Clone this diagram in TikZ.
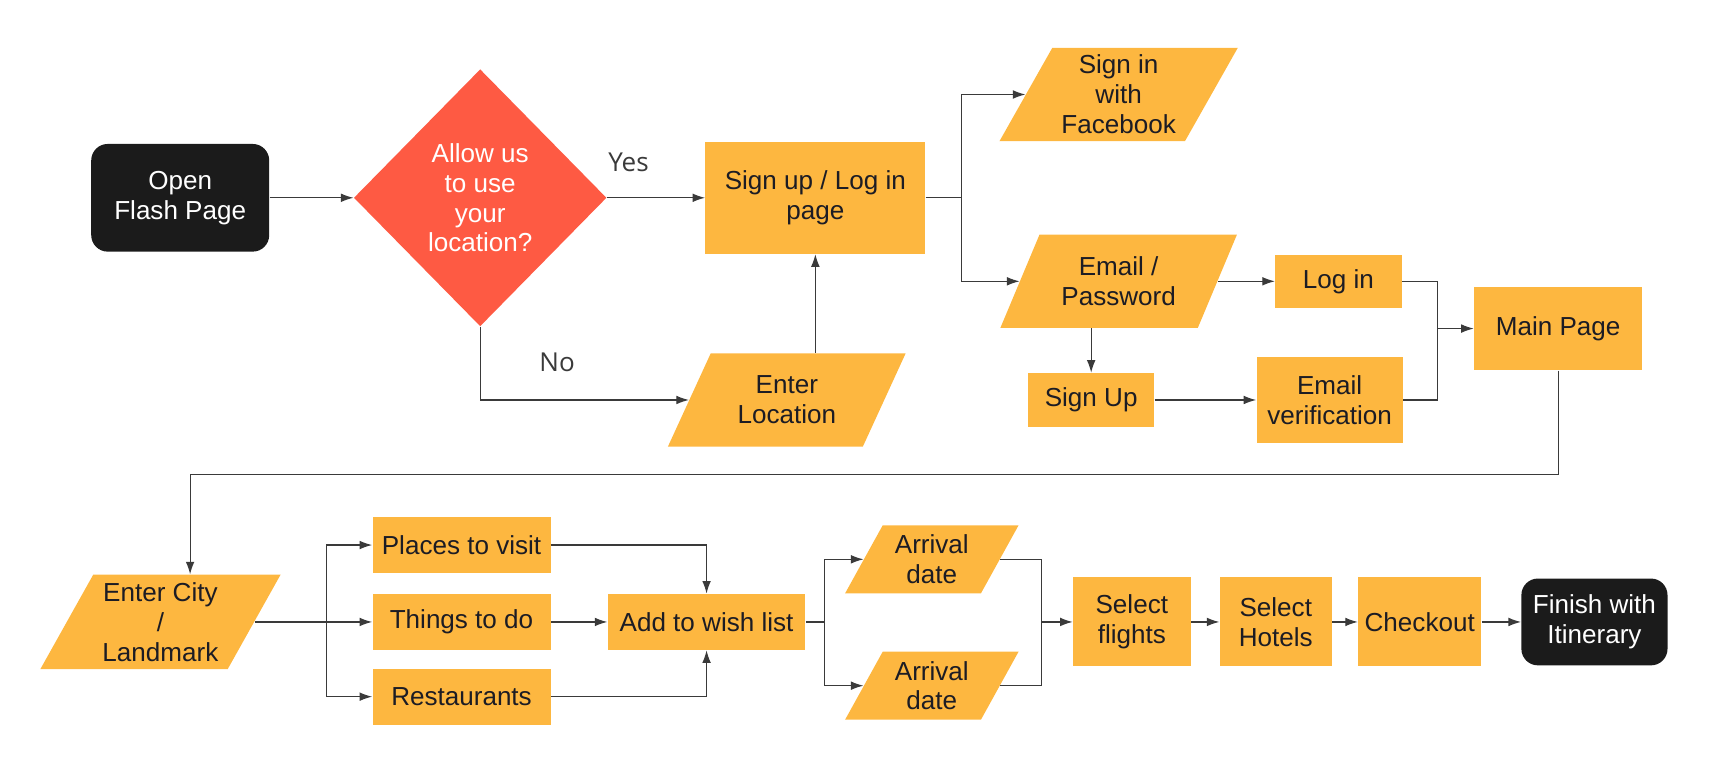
\documentclass[tikz,border=0pt]{standalone}
\usepackage{fontspec}
\setmainfont{Liberation Sans}
\newfontfamily\labelfont{Open Sans}
\usetikzlibrary{shapes.geometric,arrows.meta}
\definecolor{boxorange}{HTML}{FDB740}
\definecolor{asktomato}{HTML}{FE5A43}
\definecolor{termblack}{HTML}{1B1B1B}
\definecolor{inkdark}{HTML}{1C1C24}
\definecolor{wiregray}{HTML}{3A3A3A}
\tikzset{
  stepbox/.style={fill=boxorange,text=inkdark,shape=rectangle,align=center,inner sep=0pt},
  inputbox/.style={fill=boxorange,text=inkdark,shape=trapezium,trapezium left angle=60,trapezium right angle=120,trapezium stretches=true,align=center,inner sep=0pt},
  endbox/.style={fill=termblack,text=white,shape=rectangle,rounded corners=0.3cm,align=center,inner sep=0pt},
  askbox/.style={fill=asktomato,text=white,shape=diamond,align=center,inner sep=0pt},
  wire/.style={draw=wiregray,line width=0.6pt},
  flow/.style={wire,-{Latex[length=6.5pt,width=4.5pt]}},
  answer/.style={font=\labelfont\fontsize{13.5}{15.5}\selectfont,text=wiregray}
}
\begin{document}
\begin{tikzpicture}[x=0.02cm,y=-0.02cm,font=\fontsize{13.5}{15.5}\selectfont]
\useasboundingbox (0,0) rectangle (1568,689);
% top row
\node[endbox,minimum width=3.24cm,minimum height=1.96cm](open) at (164,180){Open\\Flash Page};
\node[askbox,minimum width=4.6cm,minimum height=4.68cm](allow) at (437,180){Allow us\\to use\\your\\location?};
\node[stepbox,minimum width=4cm,minimum height=2.04cm](signup) at (742,180){Sign up / Log in\\page};
\node[inputbox,minimum width=4.34cm,minimum height=1.7cm](enterloc) at (716,364){Enter\\Location};
\node[answer](yes) at (572,148){Yes};
\node[answer](no) at (507,330){No};
\node[inputbox,minimum width=4.34cm,minimum height=1.7cm](fb) at (1018,86){Sign in\\with\\Facebook};
\node[inputbox,minimum width=4.34cm,minimum height=1.7cm](email) at (1018,256){Email /\\Password};
\node[stepbox,minimum width=2.3cm,minimum height=0.96cm](login) at (1218,256){Log in};
\node[stepbox,minimum width=2.3cm,minimum height=0.98cm](signupb) at (993,364){Sign Up};
\node[stepbox,minimum width=2.66cm,minimum height=1.56cm](verif) at (1210,364){Email\\verification};
\node[stepbox,minimum width=3.06cm,minimum height=1.52cm](main) at (1418,299){Main Page};
% bottom row
\node[inputbox,minimum width=4.38cm,minimum height=1.72cm](city) at (146,566){Enter City\\/\\Landmark};
\node[stepbox,minimum width=3.24cm,minimum height=1.02cm](places) at (420,496){Places to visit};
\node[stepbox,minimum width=3.24cm,minimum height=1.02cm](things) at (420,566){Things to do};
\node[stepbox,minimum width=3.24cm,minimum height=1.02cm](rest) at (420,634){Restaurants};
\node[stepbox,minimum width=3.6cm,minimum height=1.02cm](wish) at (643,566){Add to wish list};
\node[inputbox,minimum width=3.18cm,minimum height=1.24cm](arr1) at (848,509){Arrival\\date};
\node[inputbox,minimum width=3.18cm,minimum height=1.24cm](arr2) at (848,624){Arrival\\date};
\node[stepbox,minimum width=2.14cm,minimum height=1.62cm](flights) at (1030,566){Select\\flights};
\node[stepbox,minimum width=2.04cm,minimum height=1.62cm](hotels) at (1161,566){Select\\Hotels};
\node[stepbox,minimum width=2.24cm,minimum height=1.62cm](checkout) at (1292,566){Checkout};
\node[endbox,minimum width=2.66cm,minimum height=1.58cm](finish) at (1451,566){Finish with\\Itinerary};
\coordinate (loginsplit) at (875,180);
\coordinate (mainjoin) at (1308,299);
\coordinate (cityturn) at (173,432);
\coordinate (citysplit) at (297,566);
\coordinate (datesplit) at (750,566);
\coordinate (datejoin) at (948,566);
% connectors
\draw[flow] (open) -- (allow);
\draw[flow] (allow) -- (signup);
\draw[flow] (allow.south) |- (enterloc.left side);
\draw[flow] (signup.south |- enterloc.north) -- (signup.south);
\draw[wire] (signup) -- (loginsplit);
\draw[flow] (loginsplit) |- (fb.left side);
\draw[flow] (loginsplit) |- (email.left side);
\draw[flow] (email.right side) -- (login);
\draw[flow] (email.south -| signupb) -- (signupb);
\draw[flow] (signupb) -- (verif);
\draw[wire] (login) -| (mainjoin) |- (verif);
\draw[flow] (mainjoin) -- (main);
\draw[flow] (main) |- (cityturn) -- (city.north -| cityturn);
\draw[wire] (city.right side) -- (citysplit);
\draw[flow] (citysplit) |- (places);
\draw[flow] (citysplit) -- (things);
\draw[flow] (citysplit) |- (rest);
\draw[flow] (places) -| (wish);
\draw[flow] (things) -- (wish);
\draw[flow] (rest) -| (wish);
\draw[wire] (wish) -- (datesplit);
\draw[flow] (datesplit) |- (arr1.left side);
\draw[flow] (datesplit) |- (arr2.left side);
\draw[wire] (arr1.right side) -| (datejoin) |- (arr2.right side);
\draw[flow] (datejoin) -- (flights);
\draw[flow] (flights) -- (hotels);
\draw[flow] (hotels) -- (checkout);
\draw[flow] (checkout) -- (finish);
\end{tikzpicture}
\end{document}
